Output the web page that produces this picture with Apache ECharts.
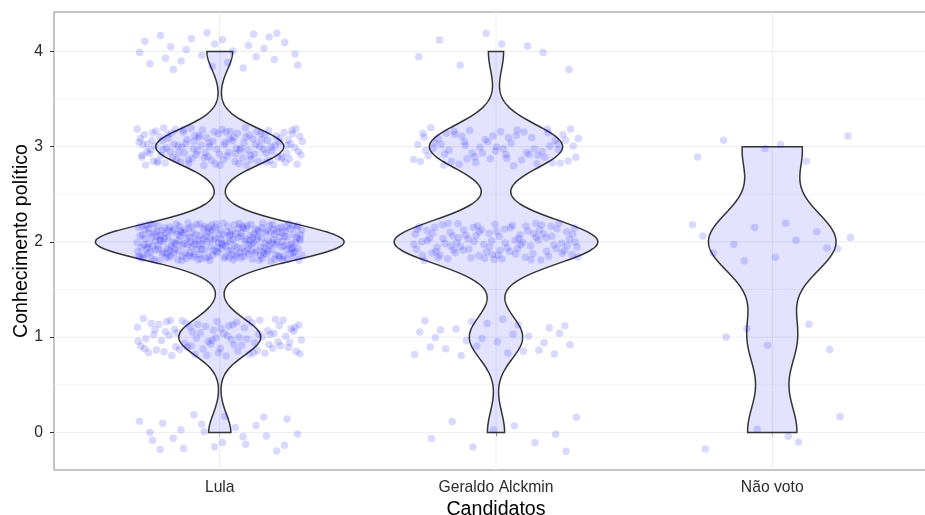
<!DOCTYPE html>
<html>
<head>
<meta charset="utf-8">
<script src="https://cdn.jsdelivr.net/npm/echarts@6/dist/echarts.min.js"></script>
<style>
  html, body { margin: 0; padding: 0; background: #fff; }
  #chart { width: 925px; height: 515px; }
</style>
</head>
<body>
<div id="chart"></div>
<script>
// Respondents per candidate at each level of political knowledge (0–4)
const candidates = ['Lula', 'Geraldo Alckmin', 'Não voto'];
const levels = [0, 1, 2, 3, 4];
const lulaCounts = [24, 89, 270, 139, 28];
const alckminCounts = [9, 28, 107, 70, 8];
const naoVotoCounts = [5, 5, 13, 6, 0];
const yTicks = [0, 1, 2, 3, 4];
const yMinorTicks = [0.5, 1.5, 2.5, 3.5];

const groupCounts = [lulaCounts, alckminCounts, naoVotoCounts];

// expand counts into raw observations
function expand(counts) {
  const out = [];
  counts.forEach((c, i) => { for (let k = 0; k < c; k++) out.push(levels[i]); });
  return out;
}

// R-style quantile (type 7)
function quantile(sorted, p) {
  const h = (sorted.length - 1) * p;
  const lo = Math.floor(h), hi = Math.ceil(h);
  return sorted[lo] + (h - lo) * (sorted[hi] - sorted[lo]);
}

// Silverman's rule of thumb (bw.nrd0)
function bwNrd0(x) {
  const n = x.length;
  const mean = x.reduce((a, b) => a + b, 0) / n;
  const sd = Math.sqrt(x.reduce((a, b) => a + (b - mean) * (b - mean), 0) / (n - 1));
  const s = x.slice().sort((a, b) => a - b);
  const iqr = quantile(s, 0.75) - quantile(s, 0.25);
  let lo = Math.min(sd, iqr / 1.34);
  if (!(lo > 0)) lo = sd || Math.abs(s[0]) || 1;
  return 0.9 * lo * Math.pow(n, -0.2);
}

// Gaussian kernel density, trimmed to the observed range
function violinDensity(x) {
  const bw = bwNrd0(x);
  const s = x.slice().sort((a, b) => a - b);
  const lo = s[0], hi = s[s.length - 1];
  const N = 512, pts = [];
  const norm = 1 / (x.length * bw * Math.sqrt(2 * Math.PI));
  for (let i = 0; i < N; i++) {
    const y = lo + (hi - lo) * i / (N - 1);
    let d = 0;
    for (const v of x) { const z = (y - v) / bw; d += Math.exp(-0.5 * z * z); }
    pts.push([y, d * norm]);
  }
  return pts;
}

const densities = groupCounts.map(c => violinDensity(expand(c)));
const maxDensity = Math.max(...densities.map(d => Math.max(...d.map(p => p[1]))));
const violinHalfWidth = 0.45;

// deterministic low-discrepancy jitter
function halton(i, b) {
  let f = 1, r = 0;
  while (i > 0) { f /= b; r += f * (i % b); i = Math.floor(i / b); }
  return r;
}
const jitterW = 0.3, jitterH = 0.2;
const pointData = [];
let seq = 17;
groupCounts.forEach((counts, g) => {
  counts.forEach((c, li) => {
    for (let k = 0; k < c; k++) {
      pointData.push([
        g + 1 + (halton(seq, 2) * 2 - 1) * jitterW,
        levels[li] + (halton(seq, 3) * 2 - 1) * jitterH
      ]);
      seq++;
    }
  });
});

const gridLines = [
  ...yTicks.map(v => ({ value: [0, v], dir: 'h', minor: false })),
  ...yMinorTicks.map(v => ({ value: [0, v], dir: 'h', minor: true })),
  ...candidates.map((c, i) => ({ value: [i + 1, 0], dir: 'v', minor: false }))
];

const X_MIN = 0.4, X_MAX = 3.6, Y_MIN = -0.395, Y_MAX = 4.414;
const FONT = 'Liberation Sans, Arial, sans-serif';

const chart = echarts.init(document.getElementById('chart'), null, { renderer: 'canvas' });
chart.setOption({
  animation: false,
  backgroundColor: '#ffffff',
  grid: {
    left: 54, top: 12, width: 884, height: 458,
    outerBoundsMode: 'none', containLabel: false,
    show: true, borderColor: '#8a8a8a', borderWidth: 1, backgroundColor: '#ffffff'
  },
  xAxis: {
    type: 'value', min: X_MIN, max: X_MAX,
    axisLine: { show: false },
    splitLine: { show: false },
    axisTick: { show: true, customValues: [1, 2, 3], length: 4, lineStyle: { color: '#333' } },
    axisLabel: {
      customValues: [1, 2, 3], margin: 10,
      formatter: v => candidates[Math.round(v) - 1] || '',
      fontFamily: FONT, fontSize: 15.7, color: '#2b2b2b'
    },
    name: 'Candidatos', nameLocation: 'middle', nameGap: 30, nameMoveOverlap: false,
    nameTextStyle: { fontFamily: FONT, fontSize: 19.6, color: '#000' }
  },
  yAxis: {
    type: 'value', min: Y_MIN, max: Y_MAX,
    axisLine: { show: false },
    splitLine: { show: false },
    axisTick: { show: true, customValues: yTicks, length: 4, lineStyle: { color: '#333' } },
    axisLabel: {
      customValues: yTicks, margin: 11,
      fontFamily: FONT, fontSize: 15.7, color: '#2b2b2b'
    },
    name: 'Conhecimento político', nameLocation: 'middle', nameGap: 22, nameMoveOverlap: false,
    nameTextStyle: { fontFamily: FONT, fontSize: 19.6, color: '#000' }
  },
  series: [
    {
      type: 'custom', z: 1, silent: true,
      data: gridLines.map(l => l.value),
      renderItem: (params, api) => {
        const l = gridLines[params.dataIndex];
        let a, b;
        if (l.dir === 'h') { a = api.coord([X_MIN, l.value[1]]); b = api.coord([X_MAX, l.value[1]]); }
        else { a = api.coord([l.value[0], Y_MIN]); b = api.coord([l.value[0], Y_MAX]); }
        return {
          type: 'line',
          shape: { x1: a[0], y1: a[1], x2: b[0], y2: b[1] },
          style: { stroke: l.minor ? '#f4f4f4' : '#ececec', lineWidth: 1 }
        };
      }
    },
    {
      type: 'custom', z: 2, silent: true,
      data: candidates.map((c, i) => [i + 1, 2]),
      renderItem: (params, api) => {
        const cx = params.dataIndex + 1;
        const d = densities[params.dataIndex];
        const right = d.map(p => api.coord([cx + violinHalfWidth * p[1] / maxDensity, p[0]]));
        const left = d.slice().reverse().map(p => api.coord([cx - violinHalfWidth * p[1] / maxDensity, p[0]]));
        return {
          type: 'polygon',
          shape: { points: right.concat(left) },
          style: { fill: 'rgba(0,0,255,0.11)', stroke: '#333333', lineWidth: 1.5 }
        };
      }
    },
    {
      type: 'scatter', z: 3, silent: true,
      data: pointData,
      symbol: 'circle', symbolSize: 7.5,
      itemStyle: { color: 'rgba(0,0,255,0.19)' }
    }
  ]
});
</script>
</body>
</html>
